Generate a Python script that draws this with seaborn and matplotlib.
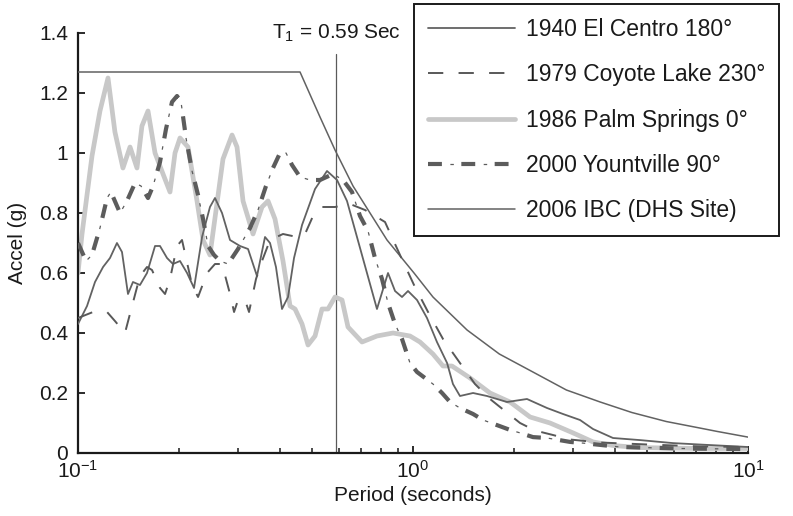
import numpy as np
import pandas as pd
import matplotlib
matplotlib.use("Agg")
import matplotlib.pyplot as plt
import seaborn as sns
from matplotlib.ticker import FixedLocator, FuncFormatter, NullFormatter, LogLocator
from matplotlib.legend_handler import HandlerTuple

# ---------------- data ----------------
elcentro_T = [0.100, 0.1064, 0.1124, 0.1188, 0.1246, 0.1307, 0.1353, 0.1410, 0.1459, 0.1531,
              0.1607, 0.1698, 0.1757, 0.1844, 0.1921, 0.2016, 0.2116, 0.2220, 0.2346, 0.2477,
              0.2564, 0.2691, 0.2843, 0.3045, 0.3218, 0.3422, 0.3616, 0.3743, 0.3899, 0.4064,
              0.4236, 0.4414, 0.4664, 0.5100, 0.5537, 0.5932, 0.6353, 0.7806, 0.8422, 0.8838,
              0.9273, 0.9663, 1.028, 1.101, 1.179, 1.264, 1.316, 1.381, 1.511, 1.663,
              1.908, 2.189, 2.512, 2.804, 3.152, 3.446, 3.954, 4.761, 5.972, 7.545, 10.0]
elcentro_A = [0.43, 0.49, 0.57, 0.62, 0.65, 0.70, 0.67, 0.53, 0.57, 0.56,
              0.60, 0.69, 0.69, 0.65, 0.63, 0.64, 0.60, 0.55, 0.72, 0.82,
              0.85, 0.80, 0.71, 0.69, 0.68, 0.59, 0.72, 0.70, 0.62, 0.48,
              0.52, 0.65, 0.76, 0.88, 0.94, 0.91, 0.84, 0.48, 0.60, 0.54,
              0.52, 0.54, 0.51, 0.45, 0.37, 0.30, 0.23, 0.19, 0.20, 0.19,
              0.17, 0.18, 0.15, 0.13, 0.11, 0.08, 0.05, 0.043, 0.033, 0.027, 0.02]

coyote_T = [0.100, 0.1109, 0.1221, 0.1289, 0.1381, 0.1450, 0.1531, 0.1607, 0.1663, 0.1757,
            0.1819, 0.1882, 0.1975, 0.2044, 0.2101, 0.2190, 0.2282, 0.2428, 0.2564, 0.2691,
            0.2843, 0.2923, 0.3004, 0.3152, 0.3240, 0.3399, 0.3542, 0.3743, 0.4092, 0.4506,
            0.4761, 0.5030, 0.5350, 0.5851, 0.6486, 0.7191, 0.8250, 0.9146, 1.007, 1.109,
            1.229, 1.381, 1.531, 1.698, 1.882, 2.087, 2.313, 2.617, 2.942, 3.616,
            5.100, 7.191, 10.0]
coyote_A = [0.45, 0.47, 0.47, 0.44, 0.40, 0.49, 0.59, 0.62, 0.61, 0.55,
            0.53, 0.58, 0.69, 0.71, 0.65, 0.56, 0.52, 0.60, 0.63, 0.63,
            0.53, 0.47, 0.51, 0.51, 0.47, 0.58, 0.64, 0.71, 0.73, 0.72,
            0.73, 0.79, 0.82, 0.82, 0.83, 0.81, 0.77, 0.66, 0.56, 0.47,
            0.38, 0.30, 0.23, 0.18, 0.14, 0.10, 0.075, 0.06, 0.045, 0.035,
            0.028, 0.022, 0.02]

palm_T = [0.100, 0.1028, 0.1101, 0.1163, 0.1229, 0.1289, 0.1362, 0.1430, 0.1500, 0.1552,
          0.1618, 0.1698, 0.1794, 0.1882, 0.1948, 0.2016, 0.2130, 0.2266, 0.2362, 0.2477,
          0.2709, 0.2883, 0.2983, 0.3109, 0.3330, 0.3542, 0.3692, 0.3873, 0.4092, 0.4295,
          0.4445, 0.4664, 0.4860, 0.5100, 0.5350, 0.5576, 0.5851, 0.6140, 0.6397, 0.7044,
          0.7806, 0.8717, 0.9795, 1.049, 1.147, 1.229, 1.307, 1.480, 1.698, 1.948,
          2.236, 2.564, 3.004, 3.446, 3.954, 4.761, 7.191, 10.0]
palm_A = [0.60, 0.73, 0.99, 1.14, 1.25, 1.07, 0.95, 1.02, 0.95, 1.09,
          1.14, 1.00, 0.93, 0.87, 1.00, 1.05, 1.02, 0.84, 0.71, 0.66,
          0.98, 1.06, 1.02, 0.84, 0.73, 0.82, 0.84, 0.78, 0.64, 0.49,
          0.48, 0.43, 0.36, 0.39, 0.48, 0.48, 0.52, 0.51, 0.42, 0.37,
          0.39, 0.40, 0.39, 0.37, 0.33, 0.29, 0.29, 0.25, 0.20, 0.17,
          0.12, 0.10, 0.067, 0.037, 0.025, 0.018, 0.015, 0.015]

yount_T = [0.100, 0.1057, 0.1101, 0.1163, 0.1221, 0.1254, 0.1335, 0.1400, 0.1480, 0.1542,
           0.1618, 0.1675, 0.1757, 0.1831, 0.1908, 0.1975, 0.2030, 0.2101, 0.2190, 0.2282,
           0.2362, 0.2445, 0.2547, 0.2654, 0.2804, 0.3004, 0.3262, 0.3446, 0.3641, 0.3820,
           0.4009, 0.4178, 0.4354, 0.4600, 0.4928, 0.5277, 0.5771, 0.6180, 0.6576, 0.6948,
           0.7341, 0.7700, 0.8082, 0.8422, 0.8838, 0.9273, 0.9795, 1.028, 1.086, 1.147,
           1.221, 1.290, 1.381, 1.511, 1.618, 1.781, 1.948, 2.087, 2.281, 2.512,
           2.942, 3.218, 4.150, 6.266, 10.0]
yount_A = [0.70, 0.64, 0.66, 0.75, 0.85, 0.87, 0.80, 0.84, 0.90, 0.89,
           0.85, 0.89, 0.97, 1.08, 1.17, 1.19, 1.17, 1.05, 0.94, 0.86,
           0.78, 0.69, 0.66, 0.64, 0.63, 0.68, 0.75, 0.81, 0.89, 0.95,
           1.00, 1.00, 0.96, 0.92, 0.91, 0.91, 0.93, 0.91, 0.87, 0.79,
           0.74, 0.65, 0.58, 0.50, 0.43, 0.38, 0.30, 0.27, 0.25, 0.23,
           0.20, 0.17, 0.15, 0.13, 0.11, 0.093, 0.077, 0.067, 0.053, 0.05,
           0.037, 0.033, 0.02, 0.015, 0.013]

ibc_T = [0.100, 0.460, 0.5277, 0.5851, 0.6621, 0.8364, 1.007, 1.147, 1.450, 1.81,
         2.28, 2.87, 3.62, 4.5, 5.7, 7.2, 8.08, 10.0]
ibc_A = [1.27, 1.27, 1.12, 1.01, 0.89, 0.71, 0.60, 0.52, 0.41, 0.33,
         0.27, 0.21, 0.17, 0.135, 0.105, 0.083, 0.072, 0.053]

T1_PERIOD = 0.59
T1_LINE_TOP = 1.33

labels = ["1940 El Centro 180°", "1979 Coyote Lake 230°", "1986 Palm Springs 0°",
          "2000 Yountville 90°", "2006 IBC (DHS Site)"]
y_ticks = [0, 0.2, 0.4, 0.6, 0.8, 1.0, 1.2, 1.4]
x_ticks = [0.1, 1, 10]
x_tick_labels = [r"$10^{-1}$", r"$10^{0}$", r"$10^{1}$"]

# ---------------- style ----------------
sns.set_style("ticks")
plt.rcParams["font.family"] = ["Liberation Sans", "DejaVu Sans"]
plt.rcParams["mathtext.default"] = "regular"
plt.rcParams["lines.scale_dashes"] = False
FS = 15
LFS = 16.5
TXT = "#1a1a1a"

fig = plt.figure(figsize=(7.93, 5.16), dpi=100)
ax = fig.add_axes([78 / 793, 63 / 516, 670 / 793, 420 / 516])

def df(T, A):
    return pd.DataFrame({"T": T, "A": A})

c_dark = "#626262"
c_dash = "#585858"
c_light = "#c8c8c8"

sns.lineplot(data=df(palm_T, palm_A), x="T", y="A", ax=ax, sort=False, estimator=None,
             color=c_light, linewidth=3.4, zorder=2)
sns.lineplot(data=df(ibc_T, ibc_A), x="T", y="A", ax=ax, sort=False, estimator=None,
             color=c_dark, linewidth=1.1, zorder=3)
sns.lineplot(data=df(elcentro_T, elcentro_A), x="T", y="A", ax=ax, sort=False, estimator=None,
             color=c_dark, linewidth=1.3, zorder=3)
sns.lineplot(data=df(coyote_T, coyote_A), x="T", y="A", ax=ax, sort=False, estimator=None,
             color=c_dash, linewidth=1.4, linestyle=(0, (11, 11)), zorder=3)
sns.lineplot(data=df(yount_T, yount_A), x="T", y="A", ax=ax, sort=False, estimator=None,
             color="#5c5c5c", linewidth=3.0, linestyle=(0, (10, 14)), zorder=4)
sns.lineplot(data=df(yount_T, yount_A), x="T", y="A", ax=ax, sort=False, estimator=None,
             color="#5c5c5c", linewidth=0.9, linestyle=(8.25, (2.5, 21.5)), zorder=4)

lines = ax.get_lines()
h_palm, h_ibc, h_el, h_coy, h_y1, h_y2 = lines[:6]

# T1 marker line
ax.plot([T1_PERIOD, T1_PERIOD], [0, T1_LINE_TOP], color="#5a5a5a", linewidth=0.9, zorder=1)
ax.text(T1_PERIOD, 1.40, r"T$_1$ = 0.59 Sec", ha="center", va="center", fontsize=FS,
        color=TXT)

ax.set_xscale("log")
ax.set_xlim(0.1, 10)
ax.set_ylim(0, 1.4)

ax.xaxis.set_major_locator(FixedLocator(x_ticks))
ax.set_xticklabels(x_tick_labels)
ax.xaxis.set_minor_locator(LogLocator(base=10, subs=np.arange(2, 10) * 1.0))
ax.xaxis.set_minor_formatter(NullFormatter())
ax.set_yticks(y_ticks)
ax.yaxis.set_major_formatter(FuncFormatter(lambda v, p: f"{v:g}"))

ax.tick_params(axis="both", which="major", direction="in", length=5, width=1.3,
               labelsize=FS, colors=TXT)
ax.tick_params(axis="y", which="major", pad=7)
ax.tick_params(axis="x", which="major", pad=5)
ax.tick_params(axis="x", which="minor", direction="in", length=3.5, width=1.1, colors=TXT)

for s in ["top", "right"]:
    ax.spines[s].set_visible(False)
for s in ["left", "bottom"]:
    ax.spines[s].set_linewidth(1.6)
    ax.spines[s].set_color(TXT)

ax.set_xlabel("Period (seconds)", fontsize=FS, color=TXT, labelpad=3)
ax.set_ylabel("Accel (g)", fontsize=FS, color=TXT, labelpad=9)

leg = fig.legend([h_el, h_coy, h_palm, (h_y1, h_y2), h_ibc], labels,
                 loc="upper left", bbox_to_anchor=(414 / 793, 1 - 4 / 516),
                 bbox_transform=fig.transFigure, borderaxespad=0, fontsize=LFS, frameon=True,
                 fancybox=False, shadow=False, framealpha=1, edgecolor=TXT,
                 handlelength=3.8, handletextpad=0.45, labelspacing=0.97, borderpad=0.62,
                 handler_map={tuple: HandlerTuple(ndivide=1)})
leg.get_frame().set_linewidth(1.4)
for t in leg.get_texts():
    t.set_color(TXT)

fig.savefig("out.png", dpi=100)
